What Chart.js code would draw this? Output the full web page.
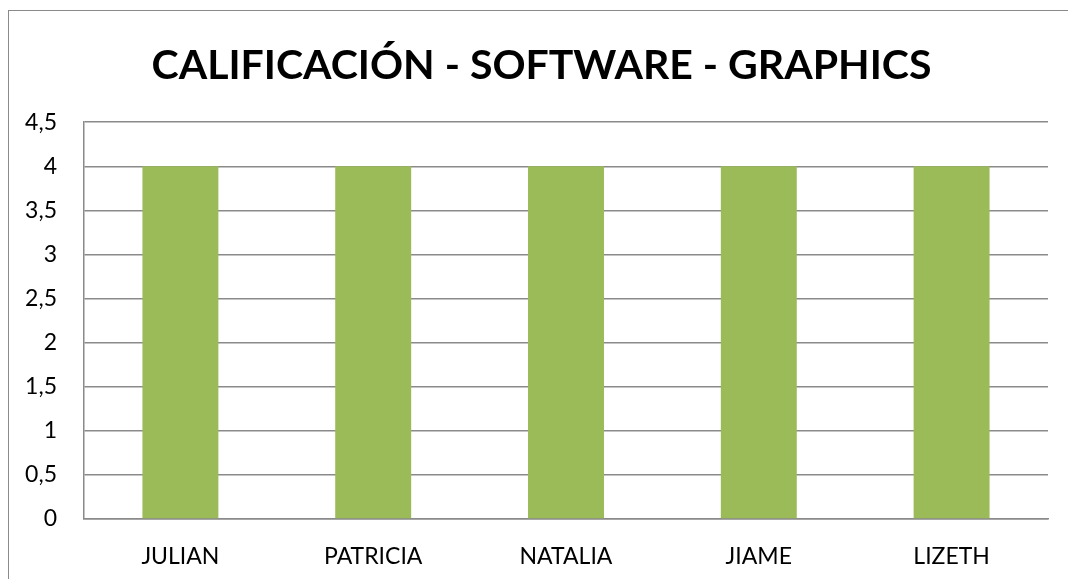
<!DOCTYPE html>
<html>
<head>
<meta charset="utf-8">
<script src="https://cdn.jsdelivr.net/npm/chart.js@4/dist/chart.umd.min.js"></script>
<style>
html,body{margin:0;padding:0;background:#fff;}
#wrap{position:relative;width:1068px;height:579px;overflow:hidden;}
#frame{position:absolute;left:8px;top:10px;width:1100px;height:600px;border-left:1.5px solid #8a8a8a;border-top:1.5px solid #8a8a8a;box-sizing:border-box;}
canvas{position:absolute;left:0;top:0;}
</style>
</head>
<body>
<div id="wrap">
<div id="frame"></div>
<canvas id="c" width="1068" height="579"></canvas>
</div>
<script>
const categories = ["JULIAN", "PATRICIA", "NATALIA", "JIAME", "LIZETH"];
const values = [4, 4, 4, 4, 4];
const titleText = "CALIFICACIÓN - SOFTWARE - GRAPHICS";
const yMin = 0, yMax = 4.5, yStep = 0.5;

const FONT = "Lato, 'Liberation Sans', sans-serif";

const shiftTitle = {
  id: 'shiftTitle',
  afterLayout(chart) {
    const t = chart.titleBlock;
    if (t) { t.left = 35; t.right = chart.width - 20; t.width = t.right - t.left; }
  }
};

new Chart(document.getElementById('c'), {
  type: 'bar',
  data: {
    labels: categories,
    datasets: [{
      data: values,
      backgroundColor: '#9BBB59',
      borderWidth: 0,
      categoryPercentage: 0.394,
      barPercentage: 1.0
    }]
  },
  options: {
    responsive: false,
    animation: false,
    devicePixelRatio: 1,
    layout: { padding: { left: 0, right: 20, top: 0, bottom: 0 } },
    plugins: {
      legend: { display: false },
      tooltip: { enabled: false },
      title: {
        display: true,
        text: titleText,
        color: '#000',
        font: { family: FONT, size: 41, weight: 'bold', lineHeight: 1.2 },
        padding: { top: 41, bottom: 32 }
      }
    },
    scales: {
      x: {
        grid: { display: false, drawTicks: false },
        border: { display: true, color: '#8a8a8a', width: 1.5 },
        ticks: { color: '#000', font: { family: FONT, size: 23 }, padding: 24, maxRotation: 0 },
        afterFit: (s) => { s.height = 60; }
      },
      y: {
        min: yMin,
        max: yMax,
        grid: { color: '#8a8a8a', lineWidth: 1.5, drawTicks: false },
        border: { display: true, color: '#8a8a8a', width: 1.5 },
        ticks: {
          stepSize: yStep,
          color: '#000',
          font: { family: FONT, size: 23 },
          padding: 27,
          callback: (v) => String(v).replace('.', ',')
        },
        afterFit: (s) => { s.width = 84; }
      }
    }
  },
  plugins: [shiftTitle]
});
</script>
</body>
</html>
